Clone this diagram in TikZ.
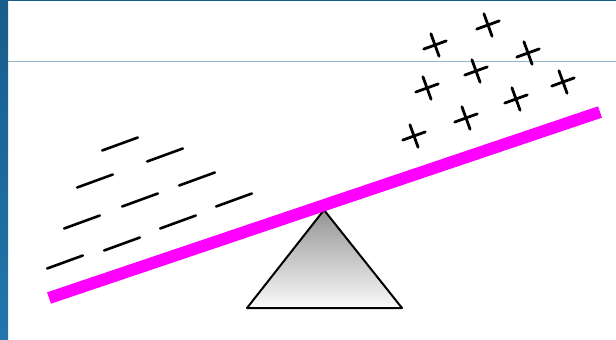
\documentclass[tikz,border=0pt]{standalone}
\definecolor{bardark}{RGB}{24,92,140}
\definecolor{barlight}{RGB}{34,118,172}
\definecolor{rulegray}{RGB}{150,184,200}
\definecolor{beam}{RGB}{255,0,255}
\tikzset{
  minussign/.pic={\draw[line width=2.6pt,line cap=round] (-19,0)--(19,0);},
  plussign/.pic={\draw[line width=2.8pt,line cap=round] (-12,0)--(12,0) (0,-12)--(0,12);}
}
\begin{document}
\begin{tikzpicture}[x=1pt,y=-1pt]
\useasboundingbox (0,0) rectangle (616,340);
\fill[white] (0,0) rectangle (616,340);
% frame
\shade[top color=bardark,bottom color=barlight] (0,0) rectangle (8,340);
\fill[bardark] (0,0) rectangle (616,1.3);
\draw[rulegray,line width=1pt] (8,61.3) -- (616,61.3);
% fulcrum
\shadedraw[top color=black!42,bottom color=black!2,draw=black,line width=2pt,line join=round]
  (324,210) -- (402,308) -- (247,308) -- cycle;
% beam
\draw[beam,line width=12pt] (49,298) -- (600,112);
% minus signs
\foreach \p in {(120,144),(165,155),(95,181),(197,179),(140,200),(234,200),(82,222),(178,222),(122,244),(65,262)}
  \pic[rotate=20] at \p {minussign};
% plus signs
\foreach \p in {(435,45),(488,25),(528,53),(476,71),(427,88),(563,82),(516,99),(466,118),(414,136)}
  \pic[rotate=20] at \p {plussign};
\end{tikzpicture}
\end{document}
